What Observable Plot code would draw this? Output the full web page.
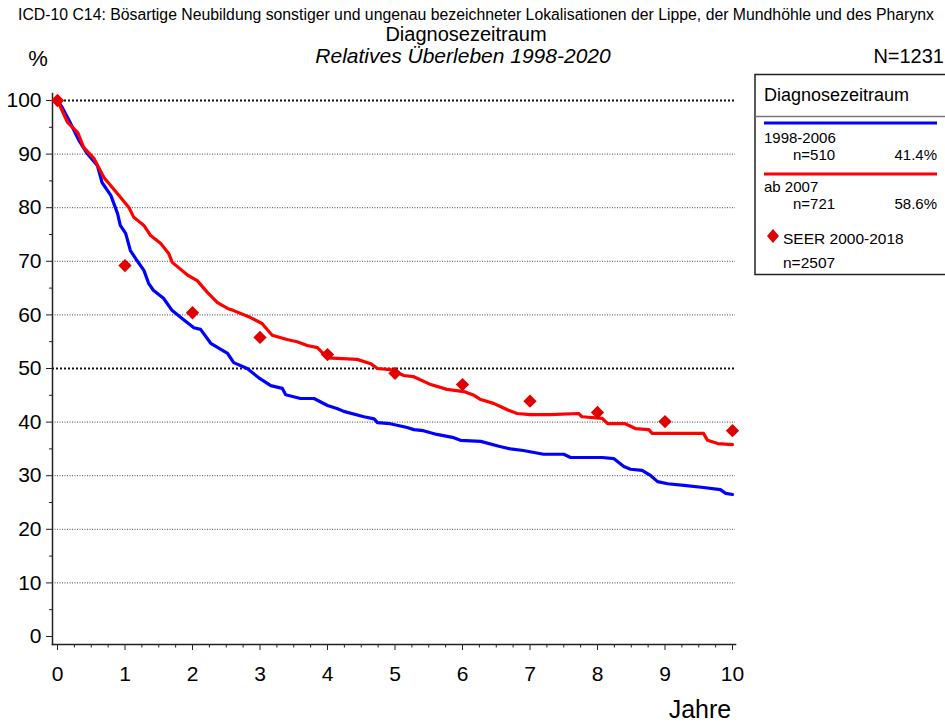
<!DOCTYPE html>
<html>
<head>
<meta charset="utf-8">
<script src="https://cdn.jsdelivr.net/npm/d3@7"></script>
<script src="https://cdn.jsdelivr.net/npm/@observablehq/plot@0.6"></script>
<style>
  html, body { margin: 0; padding: 0; background: white; }
  #chart { width: 945px; height: 724px; }
  svg { font-family: "Liberation Sans", Arial, sans-serif; }
</style>
</head>
<body>
<div id="chart"></div>
<script>
// ---- data ----
const blueT = [0, 0.07, 0.17, 0.32, 0.44, 0.59, 0.66, 0.79, 0.89, 0.93, 1.01, 1.08, 1.18, 1.28, 1.35, 1.42, 1.57, 1.70, 1.85, 2.02, 2.12, 2.27, 2.52, 2.61, 2.81, 3.00, 3.16, 3.33, 3.38, 3.60, 3.80, 4.00, 4.15, 4.24, 4.54, 4.69, 4.74, 4.93, 5.18, 5.28, 5.42, 5.62, 5.87, 5.97, 6.27, 6.54, 6.71, 6.90, 7.20, 7.50, 7.60, 8.07, 8.24, 8.39, 8.49, 8.66, 8.79, 8.89, 9.04, 9.28, 9.57, 9.82, 9.90, 10.0];
const blueS = [100, 98.7, 96.3, 92.5, 90.1, 87.9, 84.7, 82.3, 78.9, 76.7, 75.2, 72.0, 70.1, 68.3, 65.9, 64.6, 63.1, 60.8, 59.3, 57.6, 57.3, 54.7, 52.8, 51.1, 50.0, 48.1, 46.8, 46.3, 45.1, 44.4, 44.4, 43.1, 42.5, 42.0, 41.0, 40.6, 39.9, 39.7, 39.0, 38.6, 38.4, 37.7, 37.1, 36.6, 36.4, 35.5, 35.0, 34.7, 34.0, 34.0, 33.4, 33.4, 33.2, 31.7, 31.2, 31.0, 30.0, 28.9, 28.5, 28.2, 27.8, 27.4, 26.7, 26.5];
const redT = [0, 0.15, 0.30, 0.39, 0.54, 0.69, 0.89, 1.06, 1.13, 1.28, 1.38, 1.53, 1.65, 1.70, 1.93, 2.07, 2.22, 2.37, 2.52, 2.61, 2.86, 3.03, 3.18, 3.40, 3.55, 3.70, 3.85, 4.00, 4.44, 4.64, 4.74, 4.93, 5.13, 5.27, 5.53, 5.77, 6.02, 6.17, 6.27, 6.46, 6.56, 6.68, 6.81, 7.00, 7.30, 7.72, 7.77, 8.07, 8.15, 8.41, 8.56, 8.76, 8.81, 9.57, 9.63, 9.78, 10.0];
const redS = [100, 95.9, 94.0, 91.2, 89.2, 85.6, 82.6, 80.0, 78.2, 76.7, 74.8, 73.3, 71.4, 69.8, 67.4, 66.4, 64.2, 62.3, 61.2, 60.8, 59.5, 58.4, 56.2, 55.4, 55.0, 54.3, 53.9, 52.0, 51.7, 50.9, 50.0, 49.8, 48.7, 48.5, 47.0, 46.1, 45.7, 45.0, 44.2, 43.5, 42.9, 42.2, 41.6, 41.4, 41.4, 41.6, 41.0, 40.7, 39.7, 39.7, 38.8, 38.6, 37.9, 37.9, 36.6, 36.0, 35.8];
const seerT = [0, 1, 2, 3, 4, 5, 6, 7, 8, 9, 10];
const seerS = [100, 69.2, 60.4, 55.8, 52.6, 49.1, 47.0, 43.9, 41.8, 40.1, 38.4];

const yTicks = [0, 10, 20, 30, 40, 50, 60, 70, 80, 90, 100];
const yMinor = [5, 15, 25, 35, 45, 55, 65, 75, 85, 95];
const xTicks = [0, 1, 2, 3, 4, 5, 6, 7, 8, 9, 10];
const xMinor = [0.25, 0.5, 0.75, 1.25, 1.5, 1.75, 2.25, 2.5, 2.75, 3.25, 3.5, 3.75, 4.25, 4.5, 4.75, 5.25, 5.5, 5.75, 6.25, 6.5, 6.75, 7.25, 7.5, 7.75, 8.25, 8.5, 8.75, 9.25, 9.5, 9.75];
const gridGray = [10, 20, 30, 40, 60, 70, 80, 90];
const gridBlack = [50, 100];

const blue = blueT.map((t, i) => ({t, s: blueS[i]}));
const red = redT.map((t, i) => ({t, s: redS[i]}));
const seer = seerT.map((t, i) => ({t, s: seerS[i]}));

const chart = Plot.plot({
  width: 945,
  height: 724,
  marginLeft: 52, insetLeft: 5,
  marginRight: 210, insetRight: 3,
  marginTop: 93, insetTop: 7,
  marginBottom: 80, insetBottom: 8,
  style: {fontFamily: '"Liberation Sans", Arial, sans-serif', background: "white", color: "black", overflow: "visible"},
  x: {domain: [0, 10]},
  y: {domain: [0, 100]},
  marks: [
    Plot.ruleY(gridGray, {stroke: "#444", strokeWidth: 1, strokeDasharray: "1,1.5"}),
    Plot.ruleY(gridBlack, {stroke: "#111", strokeWidth: 2, strokeDasharray: "2,2"}),
    Plot.frame({anchor: "left", stroke: "#222", strokeWidth: 1.5}),
    Plot.frame({anchor: "bottom", stroke: "#222", strokeWidth: 1.5}),
    Plot.axisY({ticks: yTicks, tickSize: 6, tickPadding: 5, fontSize: 21, label: null, tickFormat: d => d, stroke: "#222"}),
    Plot.axisY({ticks: yMinor, tickSize: 3, text: null, label: null, stroke: "#222"}),
    Plot.axisX({ticks: xTicks, tickSize: 6, tickPadding: 16, fontSize: 21, label: null, tickFormat: d => d, stroke: "#222"}),
    Plot.axisX({ticks: xMinor, tickSize: 3.5, text: null, label: null, stroke: "#222"}),
    Plot.line(blue, {x: "t", y: "s", stroke: "#0000ff", strokeWidth: 3.2}),
    Plot.line(red, {x: "t", y: "s", stroke: "#ff0000", strokeWidth: 3.2}),
    Plot.dot(seer, {x: "t", y: "s", symbol: "diamond2", r: 6, fill: "#e00000", stroke: null})
  ]
});

const svg = d3.select(chart);
const font = '"Liberation Sans", Arial, sans-serif';
function txt(x, y, s, size, anchor = "start", style = "normal") {
  svg.append("text").attr("x", x).attr("y", y).attr("font-size", size)
    .attr("text-anchor", anchor).attr("font-style", style)
    .attr("font-family", font).attr("fill", "black").text(s);
}
// titles
txt(476, 20, "ICD-10 C14: Bösartige Neubildung sonstiger und ungenau bezeichneter Lokalisationen der Lippe, der Mundhöhle und des Pharynx", 15.8, "middle");
txt(466, 41, "Diagnosezeitraum", 20, "middle");
txt(463, 63, "Relatives Überleben 1998-2020", 21, "middle", "italic");
txt(38, 66, "%", 22, "middle");
txt(944, 63, "N=1231", 20, "end");
txt(700, 718, "Jahre", 25, "middle");

// legend
const lg = svg.append("g");
lg.append("rect").attr("x", 755).attr("y", 74.5).attr("width", 200).attr("height", 200)
  .attr("fill", "white").attr("stroke", "#222").attr("stroke-width", 1.5);
lg.append("line").attr("x1", 755).attr("x2", 945).attr("y1", 116.5).attr("y2", 116.5)
  .attr("stroke", "#777").attr("stroke-width", 1.5);
txt(764, 101, "Diagnosezeitraum", 18);
lg.append("line").attr("x1", 764).attr("x2", 937).attr("y1", 123).attr("y2", 123)
  .attr("stroke", "#0000ff").attr("stroke-width", 3);
txt(764, 143, "1998-2006", 15);
txt(793, 160, "n=510", 15);
txt(937, 160, "41.4%", 15, "end");
lg.append("line").attr("x1", 764).attr("x2", 937).attr("y1", 174).attr("y2", 174)
  .attr("stroke", "#ff0000").attr("stroke-width", 3);
txt(764, 192, "ab 2007", 15);
txt(793, 209, "n=721", 15);
txt(937, 209, "58.6%", 15, "end");
lg.append("path").attr("d", "M773,229 L779,236 L773,243 L767,236 Z").attr("fill", "#e00000");
txt(783, 244, "SEER 2000-2018", 15.5);
txt(783, 268, "n=2507", 15.5);

document.getElementById("chart").appendChild(chart);
</script>
</body>
</html>
